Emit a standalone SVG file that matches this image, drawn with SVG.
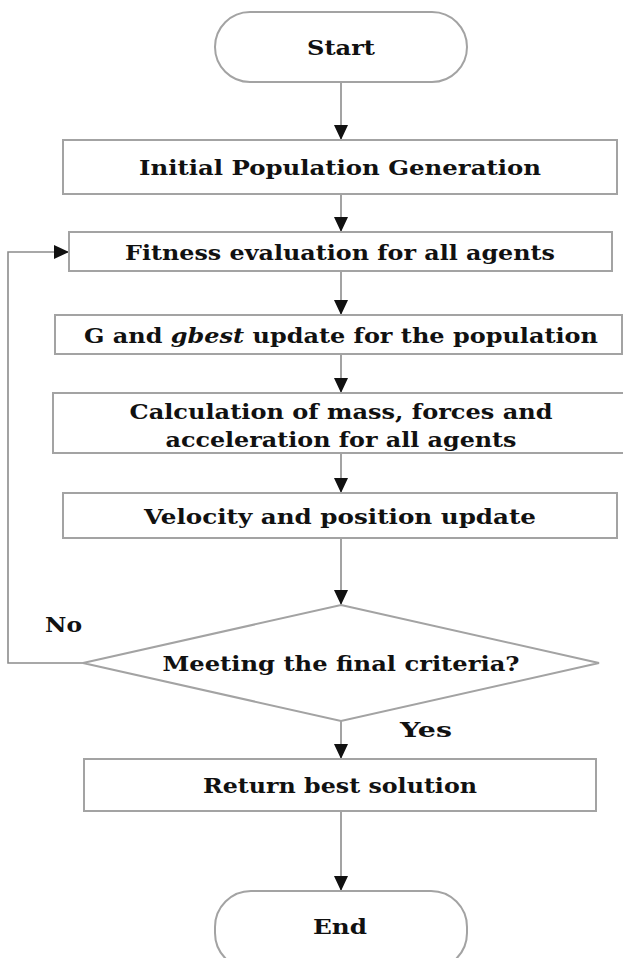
<svg xmlns="http://www.w3.org/2000/svg" width="623" height="958" viewBox="0 0 623 958">
  <style>
    .shape { fill: #ffffff; stroke: #a3a3a3; stroke-width: 2; }
    .wire { fill: none; stroke: #8c8c8c; stroke-width: 1.6; }
    .label { font-family: "DejaVu Serif", "Liberation Serif", serif; font-weight: bold; font-size: 21px; fill: #111111; text-anchor: middle; dominant-baseline: central; }
    .tag { font-family: "DejaVu Serif", "Liberation Serif", serif; font-weight: bold; font-size: 21px; fill: #111111; }
  </style>
  <defs>
    <marker id="head" viewBox="0 0 15 14" refX="15" refY="7" markerWidth="15" markerHeight="14" markerUnits="userSpaceOnUse" orient="auto">
      <path d="M0,0 L15,7 L0,14 Z" fill="#111111"/>
    </marker>
  </defs>

  <!-- connectors -->
  <g id="connectors">
    <line class="wire" x1="341" y1="82" x2="341" y2="140" marker-end="url(#head)"/>
    <line class="wire" x1="341" y1="194" x2="341" y2="232" marker-end="url(#head)"/>
    <line class="wire" x1="341" y1="271" x2="341" y2="315" marker-end="url(#head)"/>
    <line class="wire" x1="341" y1="354" x2="341" y2="393" marker-end="url(#head)"/>
    <line class="wire" x1="341" y1="453" x2="341" y2="493" marker-end="url(#head)"/>
    <line class="wire" x1="341" y1="538" x2="341" y2="605" marker-end="url(#head)"/>
    <line class="wire" x1="341" y1="721" x2="341" y2="759" marker-end="url(#head)"/>
    <line class="wire" x1="341" y1="811" x2="341" y2="891" marker-end="url(#head)"/>
    <path class="wire" d="M83,663 H8 V252 H69" marker-end="url(#head)"/>
    <text class="tag" x="45" y="632" textLength="37" lengthAdjust="spacingAndGlyphs">No</text>
    <text class="tag" x="400" y="737" textLength="52" lengthAdjust="spacingAndGlyphs">Yes</text>
  </g>

  <g id="start">
    <rect class="shape" x="215" y="12" width="252" height="70" rx="35" ry="35"/>
    <text class="label" x="341" y="47" textLength="68" lengthAdjust="spacingAndGlyphs">Start</text>
  </g>

  <g id="init-population">
    <rect class="shape" x="63" y="140" width="554" height="54"/>
    <text class="label" x="340" y="167" textLength="402" lengthAdjust="spacingAndGlyphs">Initial Population Generation</text>
  </g>

  <g id="fitness">
    <rect class="shape" x="69" y="232" width="543" height="39"/>
    <text class="label" x="340" y="252" textLength="430" lengthAdjust="spacingAndGlyphs">Fitness evaluation for all agents</text>
  </g>

  <g id="gbest-update">
    <rect class="shape" x="55" y="315" width="567" height="39"/>
    <text class="label" x="341" y="335" textLength="514" lengthAdjust="spacingAndGlyphs">G and <tspan font-style="italic">gbest</tspan> update for the population</text>
  </g>

  <g id="mass-forces">
    <rect class="shape" x="53" y="393" width="575" height="60"/>
    <text class="label" x="341" y="411" textLength="423" lengthAdjust="spacingAndGlyphs">Calculation of mass, forces and</text>
    <text class="label" x="341" y="439" textLength="351" lengthAdjust="spacingAndGlyphs">acceleration for all agents</text>
  </g>

  <g id="velocity-position">
    <rect class="shape" x="63" y="493" width="554" height="45"/>
    <text class="label" x="340" y="516" textLength="392" lengthAdjust="spacingAndGlyphs">Velocity and position update</text>
  </g>

  <g id="criteria">
    <polygon class="shape" points="341,605 599,663 341,721 83,663"/>
    <text class="label" x="341" y="663" textLength="357" lengthAdjust="spacingAndGlyphs">Meeting the final criteria?</text>
  </g>

  <g id="best-solution">
    <rect class="shape" x="84" y="759" width="512" height="52"/>
    <text class="label" x="340" y="785" textLength="274" lengthAdjust="spacingAndGlyphs">Return best solution</text>
  </g>

  <g id="end">
    <rect class="shape" x="215" y="891" width="252" height="78" rx="36" ry="36"/>
    <text class="label" x="340" y="926" textLength="54" lengthAdjust="spacingAndGlyphs">End</text>
  </g>
</svg>
